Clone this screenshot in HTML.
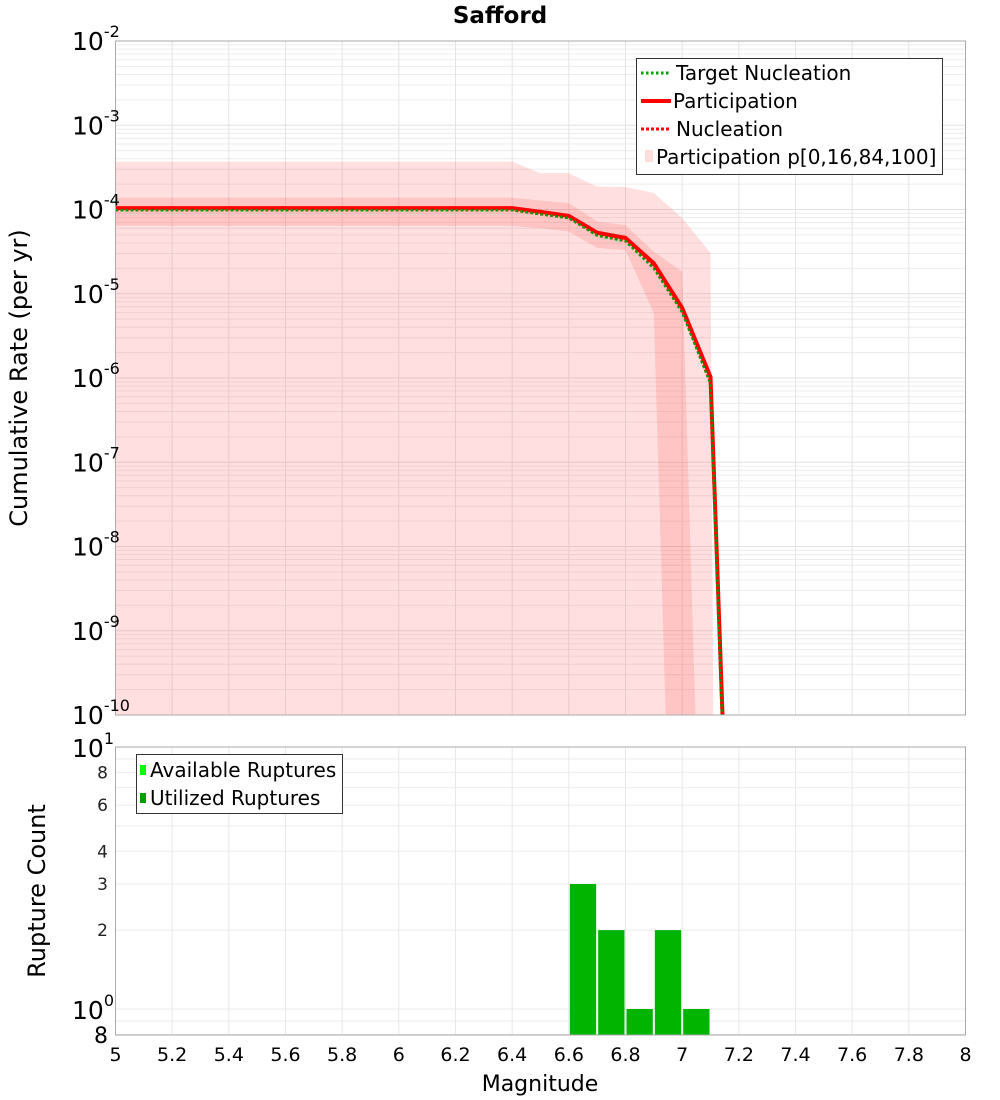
<!DOCTYPE html>
<html><head><meta charset="utf-8"><style>
html,body{margin:0;padding:0;background:#fff;overflow:hidden;width:1000px;height:1100px;font-family:"Liberation Sans","DejaVu Sans",sans-serif;}
svg{display:block;}
svg text{font-family:"DejaVu Sans","Liberation Sans",sans-serif;}
</style></head><body>
<svg id="c" width="1000" height="1100" xmlns="http://www.w3.org/2000/svg"></svg>
<script>
const mags = [5.0,5.1,5.2,5.3,5.4,5.5,5.6,5.7,5.8,5.9,6.0,6.1,6.2,6.3,6.4,6.5,6.6,6.7,6.8,6.9,7.0,7.1,7.2];
const participation = [1.04e-4,1.04e-4,1.04e-4,1.04e-4,1.04e-4,1.04e-4,1.04e-4,1.04e-4,1.04e-4,1.04e-4,1.04e-4,1.04e-4,1.04e-4,1.04e-4,1.04e-4,9.4e-5,8.4e-5,5.3e-5,4.6e-5,2.3e-5,6.8e-6,1.03e-6,3.5e-16];
const nucleation = [9.9e-5,9.9e-5,9.9e-5,9.9e-5,9.9e-5,9.9e-5,9.9e-5,9.9e-5,9.9e-5,9.9e-5,9.9e-5,9.9e-5,9.9e-5,9.9e-5,9.9e-5,8.9e-5,8.0e-5,5.0e-5,4.3e-5,2.1e-5,6.2e-6,8.8e-7,2e-16];
const targetNucleation = [9.8e-5,9.8e-5,9.8e-5,9.8e-5,9.8e-5,9.8e-5,9.8e-5,9.8e-5,9.8e-5,9.8e-5,9.8e-5,9.8e-5,9.8e-5,9.8e-5,9.8e-5,8.8e-5,7.9e-5,4.9e-5,4.2e-5,2.0e-5,6.0e-6,8.5e-7,1.5e-16];
const p100 = [3.7e-4,3.7e-4,3.7e-4,3.7e-4,3.7e-4,3.7e-4,3.7e-4,3.7e-4,3.7e-4,3.7e-4,3.7e-4,3.7e-4,3.7e-4,3.7e-4,3.7e-4,2.7e-4,2.7e-4,1.87e-4,1.85e-4,1.57e-4,7.9e-5,3.05e-5,1e-100];
const p84 = [1.38e-4,1.38e-4,1.38e-4,1.38e-4,1.38e-4,1.38e-4,1.38e-4,1.38e-4,1.38e-4,1.38e-4,1.38e-4,1.38e-4,1.38e-4,1.38e-4,1.38e-4,1.28e-4,1.19e-4,7.2e-5,6.5e-5,3.16e-5,1.83e-5,1e-16,1e-30];
const p16 = [6.4e-5,6.4e-5,6.4e-5,6.4e-5,6.4e-5,6.4e-5,6.4e-5,6.4e-5,6.4e-5,6.4e-5,6.4e-5,6.4e-5,6.4e-5,6.4e-5,6.4e-5,6.0e-5,5.5e-5,3.5e-5,3.3e-5,5.9e-6,2.5e-17,1e-30,1e-30];
const p0 = [1e-30,1e-30,1e-30,1e-30,1e-30,1e-30,1e-30,1e-30,1e-30,1e-30,1e-30,1e-30,1e-30,1e-30,1e-30,1e-30,1e-30,1e-30,1e-30,1e-30,1e-30,1e-30,1e-30];
const binCenters = [6.65,6.75,6.85,6.95,7.05];
const utilizedCounts = [3,2,1,2,1];
const xTicks = [5,5.2,5.4,5.6,5.8,6,6.2,6.4,6.6,6.8,7,7.2,7.4,7.6,7.8,8];
const topExps = [-2,-3,-4,-5,-6,-7,-8,-9,-10];

const NS="http://www.w3.org/2000/svg";
const svg=document.getElementById('c');
function mk(tag,attrs,parent){const e=document.createElementNS(NS,tag);for(const k in attrs)e.setAttribute(k,attrs[k]);(parent||svg).appendChild(e);return e;}
const L=115.5,R=965.5;
const xs=m=>L+(m-5)/3*(R-L);
const T1=41,B1=715;
const ys1=v=>T1+(-2-Math.log10(v))*(B1-T1)/8;
const T2=747,B2=1035;
const ys2=v=>1009-262*Math.log10(v);

const defs=mk('defs',{});
const cp=mk('clipPath',{id:'cp1'},defs);mk('rect',{x:L,y:T1,width:R-L,height:B1-T1},cp);

const g1=mk('g',{});

for(let e=-10;e<-2;e++)for(let k=1;k<10;k++){const y=ys1(k*Math.pow(10,e));mk('line',{x1:L,x2:R,y1:y,y2:y,stroke:k==1?'#e0e0e0':'#ececec','stroke-width':1},g1);}
xTicks.forEach(m=>{const x=xs(m);mk('line',{x1:x,x2:x,y1:T1,y2:B1,stroke:'#e4e4e4','stroke-width':1},g1);});

function bandPath(up,lo){let d='';mags.forEach((m,i)=>{d+=(i?'L':'M')+xs(m).toFixed(1)+','+Math.min(ys1(up[i]),5000).toFixed(1);});for(let i=mags.length-1;i>=0;i--)d+='L'+xs(mags[i]).toFixed(1)+','+Math.min(ys1(lo[i]),5000).toFixed(1);return d+'Z';}
const gb=mk('g',{'clip-path':'url(#cp1)'});
const b1=mk('path',{d:bandPath(p100,p0),fill:'rgba(255,80,80,0.18)'},gb);

const b2=mk('path',{d:bandPath(p84,p16),fill:'rgba(255,80,80,0.18)'},gb);

function linePath(arr){return mags.map((m,i)=>(i?'L':'M')+xs(m).toFixed(1)+','+Math.min(ys1(arr[i]),5000).toFixed(1)).join('');}
const l1=mk('path',{d:linePath(participation),fill:'none',stroke:'#ff0000','stroke-width':4},gb);

const l2=mk('path',{d:linePath(nucleation),fill:'none',stroke:'#ff0000','stroke-width':3,'stroke-dasharray':'3,2'},gb);

const l3=mk('path',{d:linePath(targetNucleation),fill:'none',stroke:'#00a000','stroke-width':2.5,'stroke-dasharray':'2.5,2.5'},gb);

const f1=mk('rect',{x:L,y:T1,width:R-L,height:B1-T1,fill:'none',stroke:'#aaa'});


topExps.forEach(e=>{const y=ys1(Math.pow(10,e));const t=mk('text',{x:72,y:y+9,'font-size':25,fill:'#000'});

t.textContent='10';const s=mk('tspan',{dy:-13,'font-size':16},t);s.textContent=String(e);});
const yt=mk('text',{x:27,y:378,'font-size':24,'text-anchor':'middle',transform:'rotate(-90 27 378)'});
yt.textContent='Cumulative Rate (per yr)';
const tt=mk('text',{x:500,y:23,'font-size':23,'font-weight':'bold','text-anchor':'middle'});
tt.textContent='Safford';

const lg=mk('g',{});
mk('rect',{x:636.5,y:58.5,width:306,height:116,fill:'#fff',stroke:'#333'},lg);
const items=[['Target Nucleation','#00a000','2.5,2.5',3],['Participation','#ff0000','',4],[' Nucleation','#ff0000','3,2',3]];
items.forEach((it,i)=>{const y=73+i*28;mk('line',{x1:641,x2:671,y1:y,y2:y,stroke:it[1],'stroke-width':it[3],'stroke-dasharray':it[2]},lg);
const tx=mk('text',{x:676-(i==1?3:0),y:y+7,'font-size':20},lg);tx.textContent=it[0];});
mk('rect',{x:645,y:150,width:8,height:12,fill:'#fdd'},lg);
const lt=mk('text',{x:656,y:164,'font-size':20},lg);lt.textContent='Participation p[0,16,84,100]';

const g2=mk('g',{});
[0.8,0.9,1,2,3,4,5,6,7,8,9,10].forEach(v=>{const y=ys2(v);mk('line',{x1:L,x2:R,y1:y,y2:y,stroke:'#ebebeb'},g2);});
xTicks.forEach(m=>{const x=xs(m);mk('line',{x1:x,x2:x,y1:T2,y2:B2,stroke:'#e8e8e8'},g2);});
binCenters.forEach((m,i)=>{const w=(xs(0.1)-xs(0))-2;const x=xs(m)-w/2;const y=ys2(utilizedCounts[i]);
const r=mk('rect',{x:x,y:y,width:w,height:B2-y,fill:'#00b400'});
});
const f2=mk('rect',{x:L,y:T2,width:R-L,height:B2-T2,fill:'none',stroke:'#aaa'});

[[10,'1'],[1,'0']].forEach(p=>{const y=ys2(p[0]);const t=mk('text',{x:72,y:y+10,'font-size':25});
t.textContent='10';const s=mk('tspan',{dy:-13,'font-size':16},t);s.textContent=p[1];});
[[8,'8'],[6,'6'],[4,'4'],[3,'3'],[2,'2']].forEach(p=>{const y=ys2(p[0]);const t=mk('text',{x:108,y:y+6,'font-size':17,'text-anchor':'end',fill:'#222'});
t.textContent=p[1];});
const t8=mk('text',{x:108,y:1043,'font-size':22,'text-anchor':'end'});t8.textContent='8';
const yt2=mk('text',{x:45,y:891,'font-size':24,'text-anchor':'middle',transform:'rotate(-90 45 891)'});
yt2.textContent='Rupture Count';
xTicks.forEach(m=>{const t=mk('text',{x:xs(m),y:1061,'font-size':19,'text-anchor':'middle'});
t.textContent=String(m);});
const xt=mk('text',{x:540,y:1091,'font-size':22,'text-anchor':'middle'});
xt.textContent='Magnitude';
const lg2=mk('g',{});
mk('rect',{x:136.5,y:754.5,width:206,height:59,fill:'#fff',stroke:'#333'},lg2);
mk('rect',{x:140,y:765,width:6,height:10,fill:'#00ff00'},lg2);
mk('rect',{x:140,y:793,width:6,height:10,fill:'#00a000'},lg2);
const a1=mk('text',{x:150,y:777,'font-size':20},lg2);a1.textContent='Available Ruptures';
const a2=mk('text',{x:150,y:805,'font-size':20},lg2);a2.textContent='Utilized Ruptures';
</script>
</body></html>
